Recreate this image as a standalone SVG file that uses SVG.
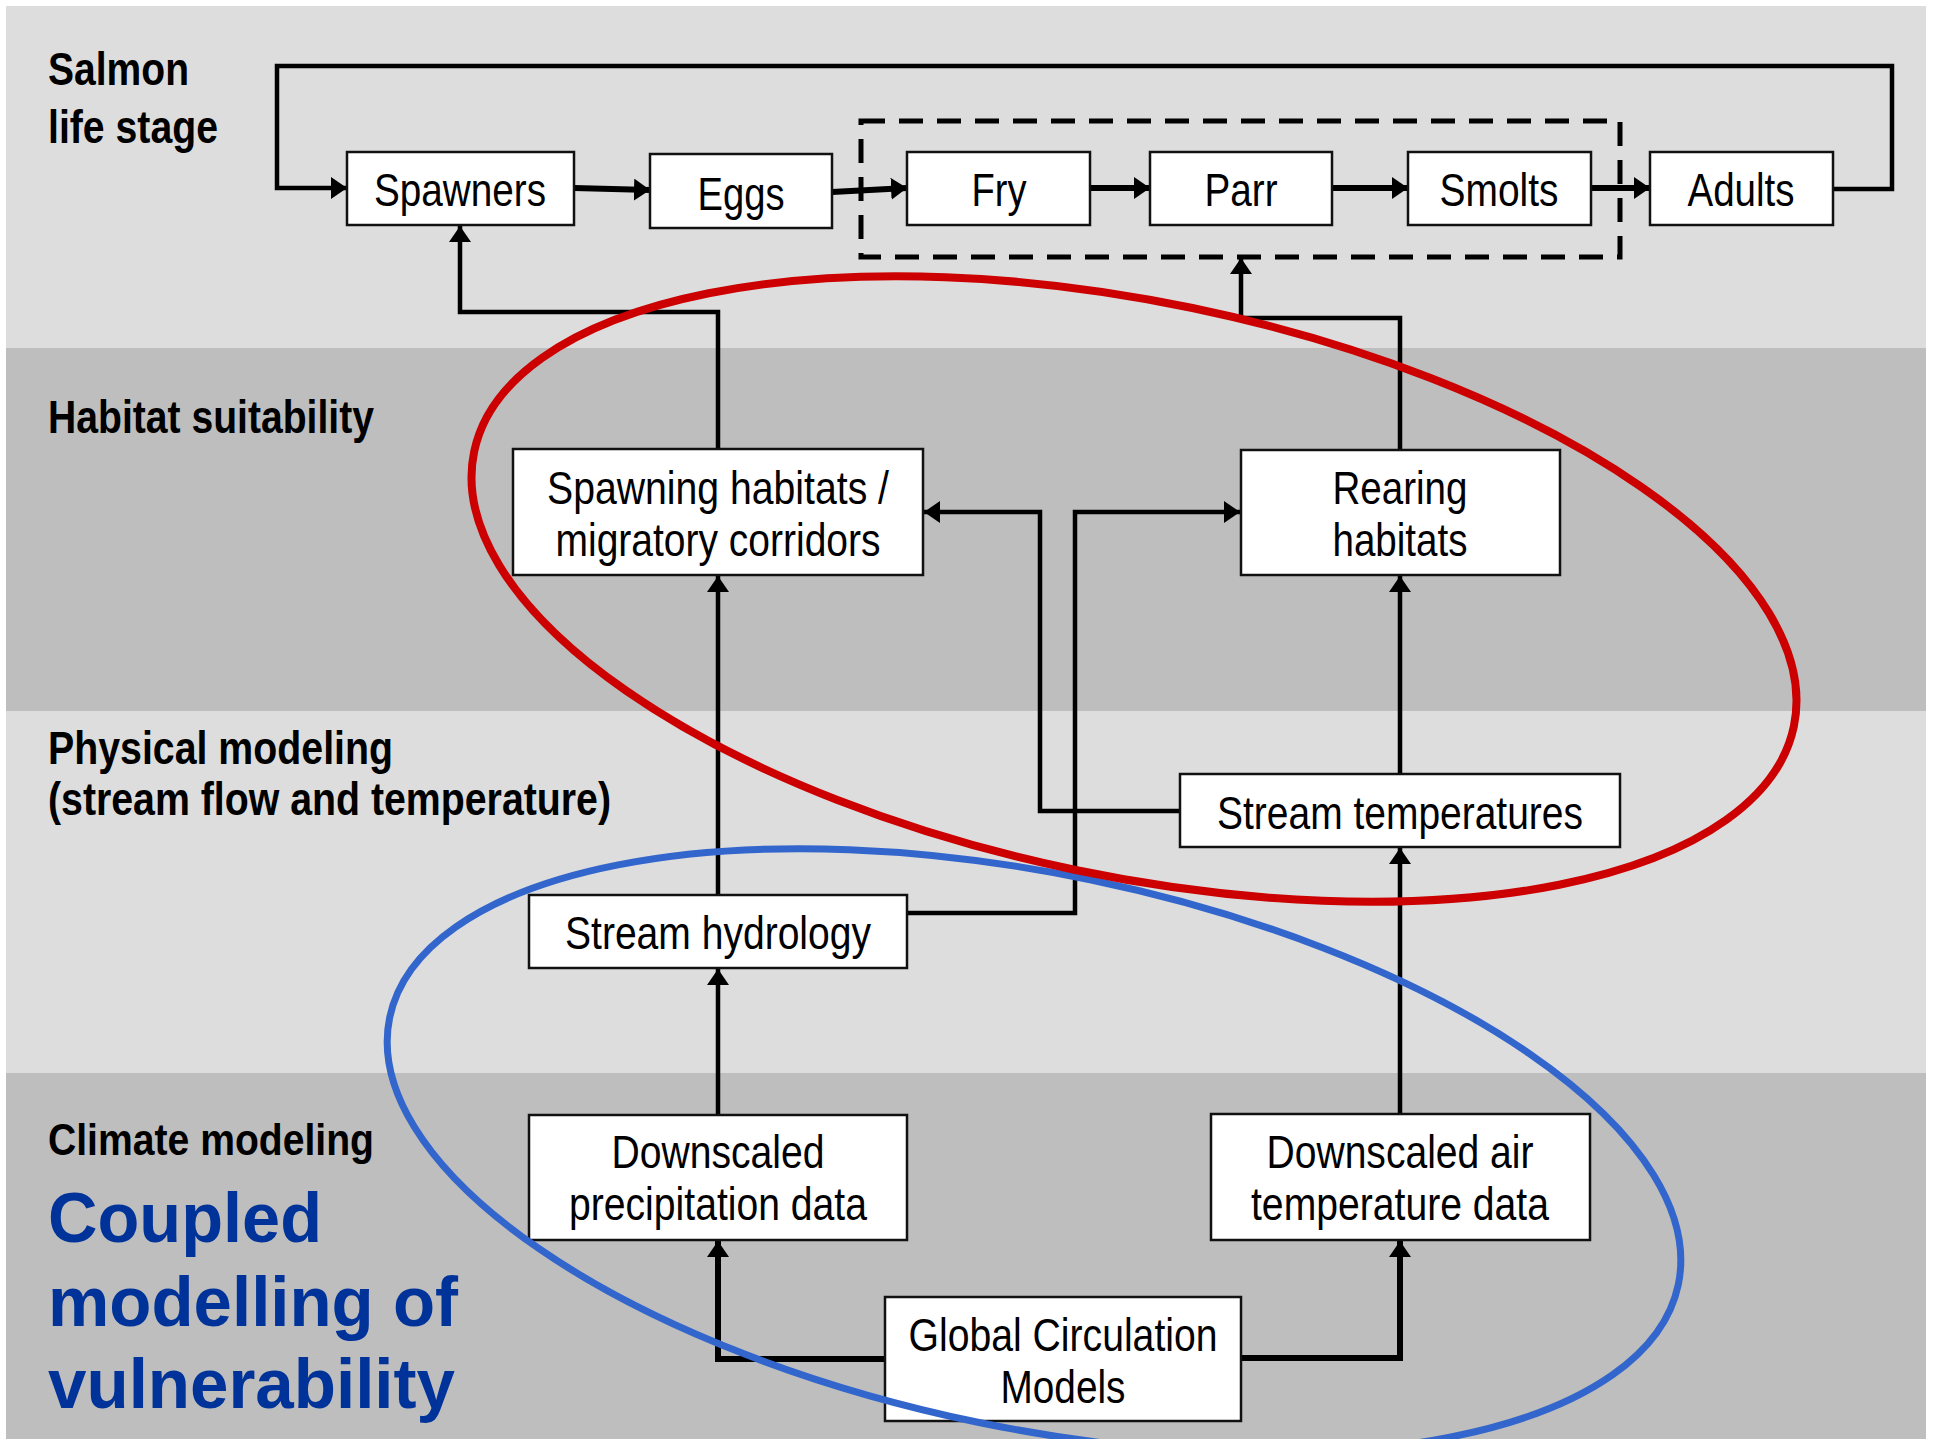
<svg xmlns="http://www.w3.org/2000/svg" width="1935" height="1439" viewBox="0 0 1935 1439">
<style>
.band-l{fill:#dddddd}
.band-d{fill:#bebebe}
.sec{font-family:"Liberation Sans",Arial,sans-serif;font-weight:bold;font-size:47px;fill:#000}
.big{font-family:"Liberation Sans",Arial,sans-serif;font-weight:bold;font-size:70px;fill:#003399}
.box{fill:#fff;stroke:#111;stroke-width:2.5}
.lbl{font-family:"Liberation Sans",Arial,sans-serif;font-size:47px;fill:#000;text-anchor:middle}
.c{fill:none;stroke:#000;stroke-width:4.5;stroke-linejoin:miter}
.ct{fill:none;stroke:#000;stroke-width:6}
</style>
<defs>
<marker id="ah" markerUnits="userSpaceOnUse" markerWidth="18" markerHeight="22" refX="16" refY="11" orient="auto">
<path d="M0,0 L16,11 L0,22 Z" fill="#000"/>
</marker>
</defs>
<rect x="0" y="0" width="1935" height="1439" fill="#fff"/>
<g id="bands">
<rect class="band-l" x="6" y="6" width="1920" height="342"/>
<rect class="band-d" x="6" y="348" width="1920" height="363"/>
<rect class="band-l" x="6" y="711" width="1920" height="362"/>
<rect class="band-d" x="6" y="1073" width="1920" height="366"/>
</g>
<g id="section-labels">
<text class="sec" x="48" y="85" textLength="141" lengthAdjust="spacingAndGlyphs">Salmon</text>
<text class="sec" x="48" y="143" textLength="170" lengthAdjust="spacingAndGlyphs">life stage</text>
<text class="sec" x="48" y="433" textLength="326" lengthAdjust="spacingAndGlyphs">Habitat suitability</text>
<text class="sec" x="48" y="764" textLength="345" lengthAdjust="spacingAndGlyphs">Physical modeling</text>
<text class="sec" x="48" y="815" textLength="563" lengthAdjust="spacingAndGlyphs">(stream flow and temperature)</text>
<text class="sec" x="48" y="1155" textLength="326" lengthAdjust="spacingAndGlyphs" style="font-size:45px">Climate modeling</text>
<text class="big" x="48" y="1242" textLength="274" lengthAdjust="spacingAndGlyphs">Coupled</text>
<text class="big" x="48" y="1326" textLength="410" lengthAdjust="spacingAndGlyphs">modelling of</text>
<text class="big" x="48" y="1408" textLength="407" lengthAdjust="spacingAndGlyphs">vulnerability</text>
</g>
<g id="connectors">
<path class="c" d="M1833,189 H1892 V66 H277 V188 H347" marker-end="url(#ah)"/>
<path class="ct" d="M574,188 L650,190" marker-end="url(#ah)"/>
<path class="ct" d="M832,192 L907,188" marker-end="url(#ah)"/>
<path class="ct" d="M1090,188 H1150" marker-end="url(#ah)"/>
<path class="ct" d="M1332,188 H1408" marker-end="url(#ah)"/>
<path class="ct" d="M1591,188 H1650" marker-end="url(#ah)"/>
<rect x="861" y="121" width="759" height="136" fill="none" stroke="#000" stroke-width="5" stroke-dasharray="24,14"/>
<path class="c" d="M718,449 V312 H460 V226" marker-end="url(#ah)"/>
<path class="c" d="M1400,450 V318 H1241 V258" marker-end="url(#ah)"/>
<path class="c" d="M718,895 V576" marker-end="url(#ah)"/>
<path class="c" d="M1400,774 V576" marker-end="url(#ah)"/>
<path class="c" d="M1180,811 H1040 V512 H924" marker-end="url(#ah)"/>
<path class="c" d="M907,913 H1075 V512 H1240" marker-end="url(#ah)"/>
<path class="c" d="M718,1115 V969" marker-end="url(#ah)"/>
<path class="c" d="M1400,1114 V848" marker-end="url(#ah)"/>
<path class="ct" d="M885,1359 H718 V1241" marker-end="url(#ah)"/>
<path class="ct" d="M1241,1358 H1400 V1241" marker-end="url(#ah)"/>
</g>
<g id="n-spawners"><rect class="box" x="347" y="152" width="227" height="73"/><text class="lbl" x="460" y="206" textLength="172" lengthAdjust="spacingAndGlyphs">Spawners</text></g>
<g id="n-eggs"><rect class="box" x="650" y="154" width="182" height="74"/><text class="lbl" x="741" y="210" textLength="87" lengthAdjust="spacingAndGlyphs">Eggs</text></g>
<g id="n-fry"><rect class="box" x="907" y="152" width="183" height="73"/><text class="lbl" x="999" y="206" textLength="55" lengthAdjust="spacingAndGlyphs">Fry</text></g>
<g id="n-parr"><rect class="box" x="1150" y="152" width="182" height="73"/><text class="lbl" x="1241" y="206" textLength="73" lengthAdjust="spacingAndGlyphs">Parr</text></g>
<g id="n-smolts"><rect class="box" x="1408" y="152" width="183" height="73"/><text class="lbl" x="1499" y="206" textLength="119" lengthAdjust="spacingAndGlyphs">Smolts</text></g>
<g id="n-adults"><rect class="box" x="1650" y="152" width="183" height="73"/><text class="lbl" x="1741" y="206" textLength="107" lengthAdjust="spacingAndGlyphs">Adults</text></g>
<g id="n-spawning"><rect class="box" x="513" y="449" width="410" height="126"/><text class="lbl" x="718" y="504" textLength="342" lengthAdjust="spacingAndGlyphs">Spawning habitats /</text><text class="lbl" x="718" y="556" textLength="325" lengthAdjust="spacingAndGlyphs">migratory corridors</text></g>
<g id="n-rearing"><rect class="box" x="1241" y="450" width="319" height="125"/><text class="lbl" x="1400" y="504" textLength="135" lengthAdjust="spacingAndGlyphs">Rearing</text><text class="lbl" x="1400" y="556" textLength="135" lengthAdjust="spacingAndGlyphs">habitats</text></g>
<g id="n-streamtemp"><rect class="box" x="1180" y="774" width="440" height="73"/><text class="lbl" x="1400" y="829" textLength="366" lengthAdjust="spacingAndGlyphs">Stream temperatures</text></g>
<g id="n-hydrology"><rect class="box" x="529" y="895" width="378" height="73"/><text class="lbl" x="718" y="949" textLength="306" lengthAdjust="spacingAndGlyphs">Stream hydrology</text></g>
<g id="n-precip"><rect class="box" x="529" y="1115" width="378" height="125"/><text class="lbl" x="718" y="1168" textLength="213" lengthAdjust="spacingAndGlyphs">Downscaled</text><text class="lbl" x="718" y="1220" textLength="298" lengthAdjust="spacingAndGlyphs">precipitation data</text></g>
<g id="n-airtemp"><rect class="box" x="1211" y="1114" width="379" height="126"/><text class="lbl" x="1400" y="1168" textLength="267" lengthAdjust="spacingAndGlyphs">Downscaled air</text><text class="lbl" x="1400" y="1220" textLength="298" lengthAdjust="spacingAndGlyphs">temperature data</text></g>
<g id="n-gcm"><rect class="box" x="885" y="1297" width="356" height="124"/><text class="lbl" x="1063" y="1351" textLength="309" lengthAdjust="spacingAndGlyphs">Global Circulation</text><text class="lbl" x="1063" y="1403" textLength="125" lengthAdjust="spacingAndGlyphs">Models</text></g>
<g id="ellipses">
<ellipse cx="1034" cy="1151" rx="658" ry="277" transform="rotate(11.7 1034 1151)" fill="none" stroke="#3366cc" stroke-width="7"/>
<ellipse cx="1134" cy="589" rx="674" ry="287" transform="rotate(11.75 1134 589)" fill="none" stroke="#cc0000" stroke-width="8"/>
</g>
</svg>
